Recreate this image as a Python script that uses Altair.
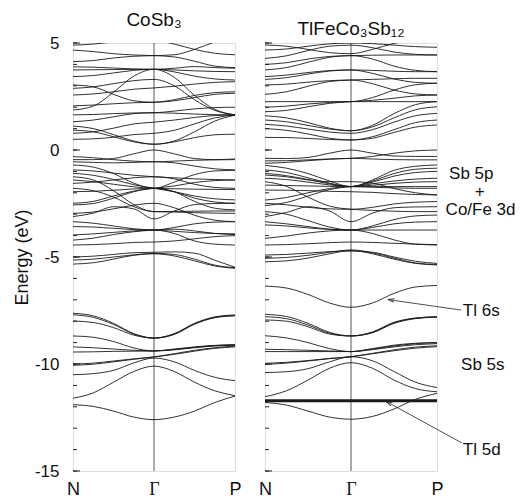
import altair as alt
import pandas as pd

# k-path sampling (N -> Gamma -> P), Gamma at 1
k_points = [0, 0.25, 0.5, 0.75, 1, 1.25, 1.5, 1.75, 2]
k_ticks = [0, 1, 2]
energy_labels = [-15, -10, -5, 0, 5]
minor_ticks = list(range(-15, 6))

# ---------------- CoSb3 ----------------
cosb3_sb5s = [
    [-11.90, -11.98, -12.20, -12.48, -12.60, -12.48, -12.20, -11.80, -11.50],
    [-11.60, -11.35, -10.85, -10.35, -10.10, -10.35, -10.85, -11.25, -11.48],
    [-10.50, -10.45, -10.30, -9.95, -9.72, -9.90, -10.30, -10.62, -10.78],
    [-10.00, -9.96, -9.86, -9.76, -9.67, -9.55, -9.40, -9.27, -9.20],
    [-10.06, -10.01, -9.90, -9.78, -9.67, -9.52, -9.36, -9.24, -9.16],
    [-9.44, -9.43, -9.41, -9.40, -9.39, -9.32, -9.22, -9.14, -9.10],
    [-9.20, -9.24, -9.30, -9.36, -9.39, -9.34, -9.24, -9.16, -9.13],
    [-8.69, -8.75, -8.95, -9.25, -9.39, -9.30, -9.20, -9.13, -9.10],
    [-7.63, -7.75, -8.10, -8.58, -8.79, -8.58, -8.10, -7.80, -7.71],
    [-7.70, -7.82, -8.15, -8.60, -8.79, -8.60, -8.12, -7.82, -7.73],
    [-7.99, -8.06, -8.30, -8.65, -8.79, -8.62, -8.14, -7.84, -7.75],
]
cosb3_valence = [
    [-5.33, -5.27, -5.10, -4.92, -4.85, -4.95, -5.18, -5.42, -5.53],
    [-5.14, -5.10, -5.00, -4.90, -4.83, -4.88, -5.10, -5.38, -5.50],
    [-5.00, -4.96, -4.88, -4.80, -4.78, -4.76, -4.82, -5.15, -5.48],
    [-0.45, -0.45, -0.40, -0.18, 0.00, -0.18, -0.40, -0.45, -0.42],
    [-0.31, -0.36, -0.45, -0.52, -0.55, -0.52, -0.48, -0.46, -0.45],
    [-0.55, -0.58, -0.60, -0.58, -0.55, -0.60, -0.75, -0.88, -0.93],
    [-0.70, -0.80, -1.10, -1.55, -1.79, -1.50, -1.15, -0.98, -0.95],
    [-0.93, -0.98, -1.08, -1.18, -1.25, -1.30, -1.35, -1.38, -1.40],
    [-1.09, -1.18, -1.38, -1.62, -1.79, -1.95, -2.15, -2.28, -2.33],
    [-1.56, -1.50, -1.40, -1.30, -1.25, -1.35, -1.60, -1.75, -1.79],
    [-1.40, -1.48, -1.60, -1.72, -1.79, -1.81, -1.83, -1.84, -1.85],
    [-2.49, -2.40, -2.15, -1.92, -1.79, -1.68, -1.52, -1.43, -1.40],
    [-2.57, -2.50, -2.25, -1.95, -1.79, -1.95, -2.25, -2.43, -2.49],
    [-1.95, -1.93, -1.88, -1.82, -1.79, -1.95, -2.40, -2.72, -2.80],
    [-1.79, -1.90, -2.20, -2.65, -2.88, -2.90, -2.93, -2.95, -2.96],
    [-1.25, -1.40, -1.90, -2.55, -2.88, -2.87, -2.86, -2.85, -2.85],
    [-3.11, -2.95, -2.65, -2.75, -3.22, -2.85, -2.55, -2.50, -2.49],
    [-2.96, -2.90, -2.75, -2.58, -2.49, -2.70, -3.05, -3.28, -3.35],
    [-3.35, -3.42, -3.55, -3.68, -3.74, -3.80, -3.86, -3.90, -3.92],
    [-3.58, -3.60, -3.66, -3.72, -3.74, -3.62, -3.45, -3.37, -3.35],
    [-3.97, -3.92, -3.85, -3.78, -3.74, -3.90, -4.25, -4.40, -4.44],
    [-4.21, -4.12, -3.95, -3.82, -3.74, -3.70, -3.78, -3.90, -3.95],
    [-4.44, -4.42, -4.38, -4.32, -4.30, -4.25, -4.15, -4.05, -4.00],
]
cosb3_conduction = [
    [0.93, 0.85, 0.62, 0.38, 0.27, 0.42, 0.85, 1.35, 1.63],
    [1.12, 1.00, 0.72, 0.42, 0.27, 0.38, 0.58, 0.71, 0.74],
    [0.50, 0.52, 0.60, 0.72, 0.78, 0.92, 1.22, 1.50, 1.64],
    [0.78, 0.85, 1.02, 1.22, 1.30, 1.40, 1.52, 1.61, 1.64],
    [1.32, 1.40, 1.55, 1.70, 1.74, 1.72, 1.68, 1.65, 1.64],
    [1.64, 1.66, 1.70, 1.73, 1.74, 1.82, 1.92, 1.98, 2.00],
    [3.04, 2.95, 2.60, 2.30, 2.23, 2.30, 2.45, 2.60, 2.65],
    [2.06, 2.10, 2.16, 2.21, 2.23, 2.35, 2.55, 2.68, 2.72],
    [2.57, 2.62, 2.72, 2.84, 2.90, 2.98, 3.08, 3.16, 3.19],
    [2.88, 2.95, 3.10, 3.24, 3.30, 3.00, 2.35, 1.85, 1.64],
    [1.87, 2.05, 2.70, 3.45, 3.77, 3.40, 2.55, 1.90, 1.64],
    [3.43, 3.48, 3.60, 3.72, 3.77, 3.65, 3.45, 3.32, 3.27],
    [3.74, 3.75, 3.76, 3.77, 3.77, 3.74, 3.70, 3.67, 3.66],
    [3.89, 3.87, 3.83, 3.79, 3.77, 3.82, 3.90, 3.85, 3.82],
    [4.13, 4.18, 4.30, 4.38, 4.41, 4.45, 4.70, 5.05, 5.30],
    [4.67, 4.60, 4.50, 4.44, 4.41, 4.35, 4.15, 3.92, 3.85],
    [4.90, 4.95, 5.05, 5.10, 5.10, 4.95, 4.70, 4.52, 4.45],
]

# ---------------- TlFeCo3Sb12 ----------------
tlfe_tl5d = [
    [-11.68] * 9,
    [-11.72] * 9,
    [-11.76] * 9,
]
tlfe_sb5s = [
    [-11.80, -11.92, -12.20, -12.48, -12.58, -12.45, -12.10, -11.65, -11.37],
    [-11.53, -11.25, -10.75, -10.20, -9.94, -10.20, -10.75, -11.15, -11.30],
    [-10.40, -10.36, -10.22, -9.90, -9.66, -9.85, -10.35, -10.85, -11.10],
    [-9.97, -9.92, -9.84, -9.74, -9.66, -9.52, -9.38, -9.26, -9.19],
    [-10.02, -9.96, -9.86, -9.75, -9.66, -9.50, -9.34, -9.21, -9.15],
    [-9.31, -9.33, -9.36, -9.39, -9.42, -9.30, -9.16, -9.05, -9.00],
    [-9.42, -9.42, -9.42, -9.42, -9.42, -9.33, -9.20, -9.10, -9.05],
    [-8.68, -8.78, -9.00, -9.28, -9.42, -9.28, -9.12, -9.03, -9.00],
    [-7.68, -7.78, -8.10, -8.52, -8.69, -8.50, -8.05, -7.85, -7.79],
    [-7.79, -7.88, -8.18, -8.56, -8.69, -8.52, -8.08, -7.86, -7.80],
    [-7.94, -8.00, -8.26, -8.60, -8.69, -8.54, -8.10, -7.88, -7.81],
]
tlfe_tl6s = [
    [-6.36, -6.45, -6.75, -7.15, -7.35, -7.15, -6.70, -6.40, -6.33],
]
tlfe_valence = [
    [-5.22, -5.18, -5.05, -4.85, -4.70, -4.85, -5.10, -5.30, -5.37],
    [-5.06, -5.02, -4.92, -4.78, -4.67, -4.80, -5.05, -5.28, -5.35],
    [-4.91, -4.88, -4.82, -4.75, -4.72, -4.78, -5.00, -5.20, -5.30],
    [-0.39, -0.40, -0.35, -0.15, 0.00, -0.15, -0.28, -0.30, -0.30],
    [-0.51, -0.50, -0.46, -0.42, -0.39, -0.30, -0.15, -0.04, 0.00],
    [-0.62, -0.58, -0.50, -0.43, -0.39, -0.42, -0.45, -0.46, -0.46],
    [-0.72, -0.85, -1.10, -1.45, -1.71, -1.40, -0.95, -0.76, -0.70],
    [-0.93, -1.05, -1.30, -1.55, -1.71, -1.45, -1.10, -0.90, -0.85],
    [-1.09, -1.20, -1.38, -1.58, -1.71, -1.50, -1.22, -1.05, -1.00],
    [-1.17, -1.25, -1.40, -1.48, -1.48, -1.55, -1.80, -2.00, -2.10],
    [-1.32, -1.38, -1.50, -1.63, -1.71, -1.58, -1.45, -1.36, -1.32],
    [-2.60, -2.45, -2.15, -1.85, -1.71, -1.65, -1.56, -1.50, -1.48],
    [-1.64, -1.66, -1.68, -1.70, -1.71, -1.71, -1.71, -1.71, -1.71],
    [-1.87, -1.88, -1.90, -1.93, -1.95, -1.98, -2.04, -2.08, -2.10],
    [-2.34, -2.22, -2.00, -1.80, -1.71, -1.74, -1.77, -1.79, -1.79],
    [-2.49, -2.56, -2.68, -2.75, -2.77, -2.68, -2.52, -2.44, -2.41],
    [-1.48, -1.70, -2.20, -2.62, -2.77, -2.82, -2.86, -2.88, -2.88],
    [-3.11, -2.92, -2.65, -2.85, -3.35, -2.95, -2.70, -2.66, -2.65],
    [-3.35, -3.45, -3.58, -3.70, -3.74, -3.55, -3.25, -3.08, -3.04],
    [-3.50, -3.55, -3.64, -3.71, -3.74, -3.62, -3.45, -3.37, -3.35],
    [-2.88, -3.00, -3.30, -3.60, -3.74, -3.74, -3.74, -3.74, -3.74],
    [-4.13, -4.02, -3.88, -3.78, -3.74, -3.90, -4.20, -4.40, -4.44],
    [-4.44, -4.42, -4.38, -4.33, -4.30, -4.32, -4.36, -4.40, -4.42],
]
tlfe_conduction = [
    [0.59, 0.58, 0.54, 0.49, 0.47, 0.62, 0.95, 1.28, 1.40],
    [1.00, 0.92, 0.75, 0.55, 0.47, 0.55, 0.82, 1.07, 1.17],
    [1.20, 1.12, 0.98, 0.84, 0.78, 0.95, 1.30, 1.60, 1.71],
    [1.40, 1.32, 1.15, 0.98, 0.90, 1.08, 1.50, 1.88, 2.02],
    [1.60, 1.50, 1.28, 1.02, 0.90, 1.15, 1.70, 2.12, 2.26],
    [1.79, 1.85, 2.02, 2.18, 2.26, 2.32, 2.42, 2.53, 2.57],
    [2.00, 2.05, 2.15, 2.22, 2.26, 2.26, 2.26, 2.26, 2.26],
    [2.26, 2.26, 2.26, 2.26, 2.26, 2.45, 2.80, 3.05, 3.12],
    [2.60, 2.72, 2.98, 3.20, 3.27, 3.30, 3.33, 3.35, 3.35],
    [3.04, 3.08, 3.17, 3.24, 3.27, 3.10, 2.80, 2.62, 2.57],
    [3.30, 3.38, 3.55, 3.69, 3.74, 3.72, 3.68, 3.66, 3.66],
    [3.43, 3.50, 3.62, 3.71, 3.74, 3.58, 3.32, 3.16, 3.12],
    [3.74, 3.85, 4.10, 4.33, 4.41, 4.25, 3.92, 3.72, 3.66],
    [4.00, 4.08, 4.25, 4.37, 4.41, 4.43, 4.44, 4.44, 4.44],
    [4.28, 4.40, 4.65, 4.85, 4.90, 4.78, 4.58, 4.47, 4.44],
    [4.67, 4.72, 4.85, 4.96, 5.00, 4.97, 4.90, 4.83, 4.80],
    [4.91, 4.85, 4.70, 4.55, 4.50, 4.70, 4.98, 5.15, 5.20],
]

# annotations (right of the TlFeCo3Sb12 panel)
ann_text = ["Sb 5p", "+", "Co/Fe 3d", "Tl 6s", "Sb 5s", "Tl 5d"]
ann_k = [2.14, 2.44, 2.10, 2.30, 2.28, 2.30]
ann_E = [-1.12, -1.96, -2.80, -7.52, -10.05, -14.02]
arrow_k_tail = [2.28, 2.29]
arrow_E_tail = [-7.48, -13.69]
arrow_k_head = [1.465, 1.44]
arrow_E_head = [-7.01, -11.82]
arrow_angle = [278, 298]

FONT = "Liberation Sans"
LINE_COLOR = "#1a1a1a"


def bands_df(groups):
    rows = []
    for gname, bands in groups:
        for i, band in enumerate(bands):
            for k, e in zip(k_points, band):
                rows.append({"band": f"{gname}{i}", "k": k, "E": e})
    return pd.DataFrame(rows)


def make_panel(groups, width, title, left_axis, thick=None, extra=None):
    x_enc = alt.X(
        "k:Q",
        scale=alt.Scale(domain=[0, 2], nice=False, zero=False),
        axis=alt.Axis(
            values=k_ticks,
            labelExpr="datum.value == 0 ? 'N' : (datum.value == 1 ? 'Γ' : 'P')",
            title=None, ticks=False, domain=False, grid=False,
            labelFontSize=18, labelPadding=9, labelFlush=False,
            labelOverlap=False, labelColor="#111",
            labelFont={"condition": {"test": "datum.value == 1", "value": "Liberation Serif"},
                       "value": FONT},
        ),
    )
    if left_axis:
        y_axis = alt.Axis(
            values=energy_labels, title="Energy (eV)", ticks=False, domain=False,
            grid=False, labelFontSize=17, labelPadding=14, labelFlush=False,
            labelExpr="datum.value + ''",
            titleFontSize=18, titleFontWeight="normal", titlePadding=3,
            labelColor="#111", titleColor="#111", labelFont=FONT, titleFont=FONT,
        )
    else:
        y_axis = alt.Axis(values=energy_labels, title=None, ticks=False, domain=False,
                          grid=False, labels=False)
    y_enc = alt.Y("E:Q", scale=alt.Scale(domain=[-15, 5], nice=False, zero=False), axis=y_axis)

    gamma = alt.Chart(pd.DataFrame({"k": [1]})).mark_rule(
        color="#444", strokeWidth=0.9
    ).encode(x=x_enc)

    lines = alt.Chart(bands_df(groups)).mark_line(
        interpolate="monotone", color=LINE_COLOR, strokeWidth=0.9, clip=True
    ).encode(x=x_enc, y=y_enc, detail="band:N")

    minor = alt.Chart(pd.DataFrame({"E": minor_ticks})).mark_rule(
        color="#222", strokeWidth=1
    ).encode(y=y_enc, x=alt.value(0), x2=alt.value(4))
    major = alt.Chart(pd.DataFrame({"E": energy_labels})).mark_rule(
        color="#222", strokeWidth=1
    ).encode(y=y_enc, x=alt.value(0), x2=alt.value(7))

    layers = [gamma, lines]
    if thick is not None:
        layers.append(
            alt.Chart(bands_df([("d", thick)])).mark_line(
                color=LINE_COLOR, strokeWidth=1.4, clip=True
            ).encode(x=x_enc, y=y_enc, detail="band:N")
        )
    layers += [minor, major]
    if extra is not None:
        layers += extra(x_enc, y_enc)

    return alt.layer(*layers).properties(
        width=width, height=428,
        title=alt.TitleParams(title, fontSize=19, font=FONT, fontWeight="normal",
                              anchor="middle", frame="group", offset=4, color="#111"),
    )


def annotations(x_enc, y_enc):
    ann = pd.DataFrame({"k": ann_k, "E": ann_E, "t": ann_text})
    arr = pd.DataFrame({"k": arrow_k_tail, "E": arrow_E_tail,
                        "k2": arrow_k_head, "E2": arrow_E_head, "a": arrow_angle})
    text = alt.Chart(ann).mark_text(
        align="left", baseline="middle", fontSize=17, font=FONT, color="#111"
    ).encode(x=x_enc, y=y_enc, text="t:N")
    shafts = alt.Chart(arr).mark_rule(color="#222", strokeWidth=0.8).encode(
        x=x_enc, y=y_enc, x2="k2:Q", y2="E2:Q")
    heads = alt.Chart(arr).mark_point(
        shape="M -0.55 1 L 0 -1 L 0.55 1", filled=False, color="#222",
        strokeWidth=0.9, size=40, opacity=1
    ).encode(x=alt.X("k2:Q", scale=alt.Scale(domain=[0, 2], nice=False)),
             y=alt.Y("E2:Q", scale=alt.Scale(domain=[-15, 5], nice=False)),
             angle=alt.Angle("a:Q", scale=None))
    return [text, shafts, heads]


left = make_panel(
    [("s", cosb3_sb5s), ("v", cosb3_valence), ("c", cosb3_conduction)],
    162, "CoSb₃", True,
)
right = make_panel(
    [("s", tlfe_sb5s), ("t", tlfe_tl6s), ("v", tlfe_valence), ("c", tlfe_conduction)],
    172, "TlFeCo₃Sb₁₂", False, thick=tlfe_tl5d, extra=annotations,
)

chart = alt.hconcat(left, right, spacing=16).properties(
    padding={"left": 12, "top": 10, "right": 0, "bottom": 0}
).configure_view(stroke="#222", strokeWidth=1).configure(font=FONT, background="white")

chart.save("out.html", embed_options={"renderer": "svg", "actions": False})
